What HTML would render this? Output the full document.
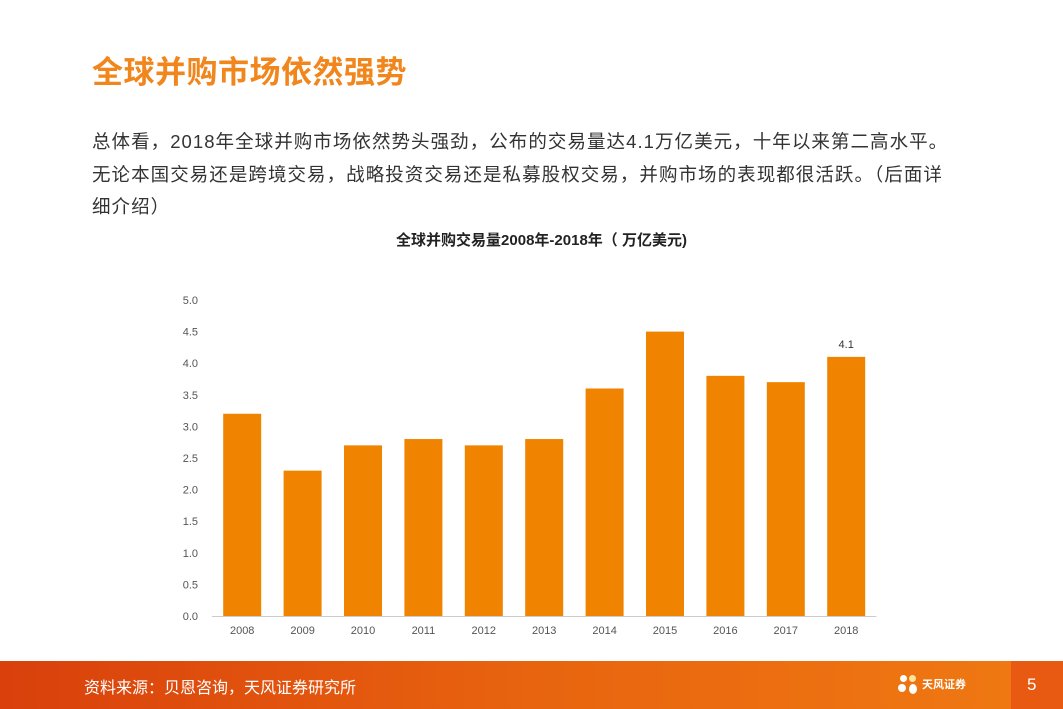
<!DOCTYPE html>
<html><head><meta charset="utf-8"><style>
body{margin:0;width:1063px;height:709px;overflow:hidden;background:#fff;font-family:"Liberation Sans","Noto Sans CJK SC",sans-serif;position:relative}
.t{position:absolute;left:92px;top:47px;font-size:31px;font-weight:bold;color:#f0861c;letter-spacing:0.5px}
.p{position:absolute;left:92px;top:126px;width:900px;font-size:18.5px;line-height:32.5px;color:#333;white-space:nowrap;letter-spacing:1.05px}
.ct{position:absolute;left:0;width:1083px;top:229px;text-align:center;font-size:15px;font-weight:bold;color:#222}
.foot{position:absolute;left:0;top:661px;width:1063px;height:48px;background:linear-gradient(90deg,#d9400c,#e8640f 50%,#f07a12)}
.fs{position:absolute;left:84px;top:674px;font-size:16px;color:#fff}
</style></head><body>
<div class="t">全球并购市场依然强势</div>
<div class="p">总体看，2018年全球并购市场依然势头强劲，公布的交易量达4.1万亿美元，十年以来第二高水平。<br>无论本国交易还是跨境交易，战略投资交易还是私募股权交易，并购市场的表现都很活跃。（后面详<br>细介绍）</div>
<div class="ct">全球并购交易量2008年-2018年（ 万亿美元)</div>
<svg id="chart" style="position:absolute;left:0;top:0" width="1063" height="660"></svg>
<div class="foot">
<div style="position:absolute;right:0;top:0;width:52px;height:48px;background:#e85a12"></div>
<div style="position:absolute;left:1027px;top:14px;color:#fff;font-size:17px">5</div>
<div style="position:absolute;left:898px;top:12px;width:20px;height:24px">
<div style="position:absolute;left:2px;top:2px;width:7px;height:7px;border-radius:50%;background:#fff"></div>
<div style="position:absolute;left:11px;top:2px;width:7px;height:7px;border-radius:50%;background:#fde2a0"></div>
<div style="position:absolute;left:0;top:11px;width:8px;height:8px;border-radius:50%;background:#fff"></div>
<div style="position:absolute;left:11px;top:11px;width:8px;height:10px;border-radius:50%;background:#fff"></div></div>
<div style="position:absolute;left:922px;top:15px;color:#fff;font-size:11px;font-weight:bold">天风证券</div>
</div>
<div class="fs">资料来源：贝恩咨询，天风证券研究所</div>
<script>
const years=["2008","2009","2010","2011","2012","2013","2014","2015","2016","2017","2018"];
const values=[3.2,2.3,2.7,2.8,2.7,2.8,3.6,4.5,3.8,3.7,4.1];
const yTicks=[0,0.5,1,1.5,2,2.5,3,3.5,4,4.5,5];
const svg=document.getElementById('chart');
const NS='http://www.w3.org/2000/svg';
const y0=616,yTop=300,ymax=5,x0=212,step=60.4,bw=38;
const ys=v=>y0-(v/ymax)*(y0-yTop);
const xc=i=>x0+step*(i+0.5);
function mk(t,a){const e=document.createElementNS(NS,t);for(const k in a)e.setAttribute(k,a[k]);svg.appendChild(e);return e;}
yTicks.forEach(v=>{const t=mk('text',{x:198,y:ys(v)+4,'text-anchor':'end','font-size':11,fill:'#555'});t.textContent=v.toFixed(1);

});
values.forEach((v,i)=>{const r=mk('rect',{x:xc(i)-bw/2,y:ys(v),width:bw,height:y0-ys(v),fill:'#f08300'});


const t=mk('text',{x:xc(i),y:634,'text-anchor':'middle','font-size':11,fill:'#555'});t.textContent=years[i];

});
const bl=mk('line',{x1:x0,x2:x0+step*years.length,y1:y0+0.5,y2:y0+0.5,stroke:'#ccc'});


const li=values.length-1;
const lab=mk('text',{x:xc(li),y:ys(values[li])-9,'text-anchor':'middle','font-size':11,fill:'#333'});lab.textContent=values[li];


</script>
</body></html>
